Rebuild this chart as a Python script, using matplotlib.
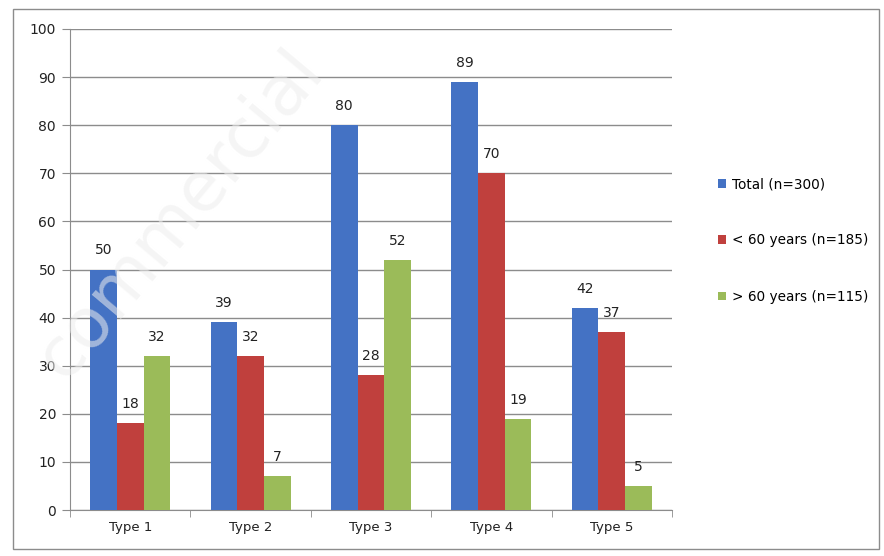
import numpy as np
import matplotlib
matplotlib.use("Agg")
import matplotlib.pyplot as plt
from matplotlib.patches import Rectangle

# Data
categories = ["Type 1", "Type 2", "Type 3", "Type 4", "Type 5"]
total = [50, 39, 80, 89, 42]
under_60 = [18, 32, 28, 70, 37]
over_60 = [32, 7, 52, 19, 5]
series_names = ["Total (n=300)", "< 60 years (n=185)", "> 60 years (n=115)"]
colors = ["#4472C4", "#C0403D", "#9BBB59"]

plt.rcParams["font.family"] = ["DejaVu Sans"]

fig = plt.figure(figsize=(8.84, 5.56), dpi=100)
ax = fig.add_axes([70 / 884, 46 / 556, 602 / 884, 481 / 556])

x = np.arange(len(categories))
width = 0.222
series = [total, under_60, over_60]
for i, (vals, name, c) in enumerate(zip(series, series_names, colors)):
    pos = x + (i - 1) * width
    bars = ax.bar(pos, vals, width, color=c, label=name, zorder=3)
    for b, v in zip(bars, vals):
        ax.text(b.get_x() + b.get_width() / 2, v + 2.5, str(v),
                ha="center", va="bottom", fontsize=10, color="#222222", zorder=4)

ax.set_ylim(0, 100)
ax.set_xlim(-0.5, len(categories) - 0.5)
ax.set_yticks(range(0, 101, 10))
ax.yaxis.grid(True, color="#8c8c8c", linewidth=1, zorder=0)
ax.set_axisbelow(True)

for s in ["top", "right"]:
    ax.spines[s].set_visible(False)
ax.spines["left"].set_color("#8c8c8c")
ax.spines["bottom"].set_color("#8c8c8c")

ax.set_xticks(x)
ax.set_xticklabels(categories)
ax.tick_params(axis="x", length=0, labelsize=9.5, pad=8, colors="#222222")
ax.set_xticks(np.arange(-0.5, len(categories)), minor=True)
ax.tick_params(axis="x", which="minor", length=5, color="#8c8c8c", direction="out")
ax.tick_params(axis="y", length=6, color="#8c8c8c", labelsize=10, pad=4, colors="#222222")

leg = fig.legend(loc="upper left", bbox_to_anchor=(706 / 884, 1 - 165 / 556),
                 frameon=False, fontsize=9.8, handlelength=0.6, handleheight=0.6,
                 handletextpad=0.4, labelspacing=3.1)

# outer chart border
fig.patches.append(Rectangle((13 / 884, 7 / 556), 866 / 884, 540 / 556,
                             transform=fig.transFigure, fill=False,
                             edgecolor="#8c8c8c", linewidth=1))

# faint watermark
fig.text(180 / 884, 1 - 215 / 556, "commercial", rotation=50, fontsize=50,
         color="#eeeeee", alpha=0.55, ha="center", va="center")

fig.savefig("out.png", dpi=100)
